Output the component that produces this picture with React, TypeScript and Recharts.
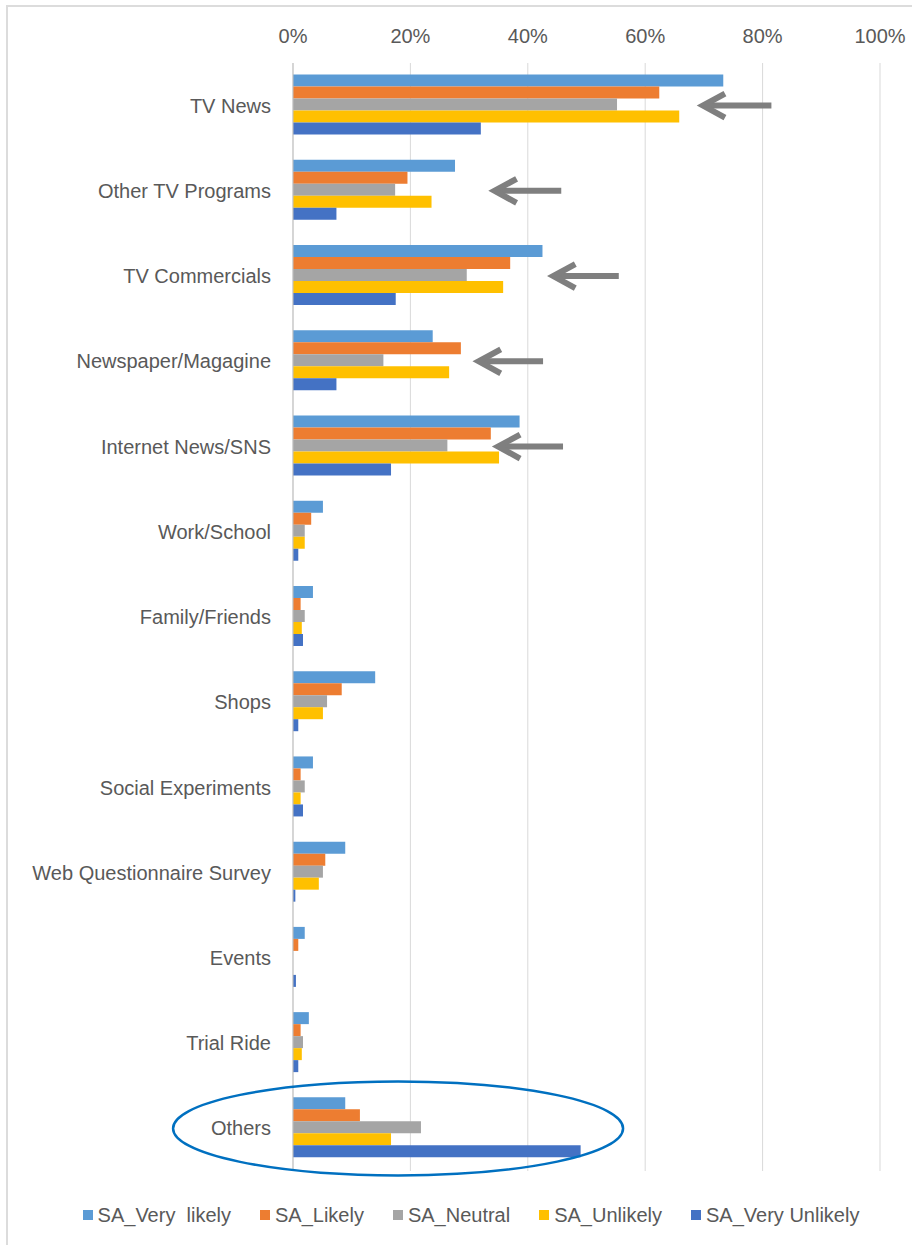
import React from 'react';
import {
  BarChart,
  Bar,
  XAxis,
  YAxis,
  CartesianGrid,
  Legend,
  ReferenceLine,
  ReferenceDot,
} from 'recharts';

const categories = [
  'TV News',
  'Other TV Programs',
  'TV Commercials',
  'Newspaper/Magagine',
  'Internet News/SNS',
  'Work/School',
  'Family/Friends',
  'Shops',
  'Social Experiments',
  'Web Questionnaire Survey',
  'Events',
  'Trial Ride',
  'Others',
];

const veryLikely = [73.3, 27.6, 42.5, 23.8, 38.6, 5.1, 3.4, 14.0, 3.4, 8.9, 2.0, 2.7, 8.9];
const likely = [62.4, 19.5, 37.0, 28.6, 33.7, 3.1, 1.3, 8.3, 1.3, 5.5, 0.9, 1.3, 11.4];
const neutral = [55.2, 17.4, 29.6, 15.4, 26.3, 2.0, 2.0, 5.8, 2.0, 5.1, 0, 1.7, 21.8];
const unlikely = [65.8, 23.6, 35.8, 26.6, 35.1, 2.0, 1.5, 5.1, 1.3, 4.4, 0, 1.5, 16.7];
const veryUnlikely = [32.0, 7.4, 17.5, 7.4, 16.7, 0.9, 1.7, 0.9, 1.7, 0.4, 0.5, 0.9, 49.0];

const xTicks = [0, 20, 40, 60, 80, 100];

const seriesNames = ['SA_Very  likely', 'SA_Likely', 'SA_Neutral', 'SA_Unlikely', 'SA_Very Unlikely'];
const seriesKeys = ['veryLikely', 'likely', 'neutral', 'unlikely', 'veryUnlikely'];
const seriesColors = ['#5B9BD5', '#ED7D31', '#A5A5A5', '#FFC000', '#4472C4'];

// annotation arrows (in data units): category, tail x, head x
const arrowCats = ['TV News', 'Other TV Programs', 'TV Commercials', 'Newspaper/Magagine', 'Internet News/SNS'];
const arrowTail = [81.5, 45.7, 55.5, 42.6, 46.0];
const arrowHead = [69.5, 34.0, 44.0, 31.3, 34.6];

// highlight ellipse around last category
const ellipseCat = 'Others';
const ellipseCenterX = 17.9;

const data = categories.map((name, i) => ({
  name,
  veryLikely: veryLikely[i],
  likely: likely[i],
  neutral: neutral[i],
  unlikely: unlikely[i],
  veryUnlikely: veryUnlikely[i],
}));

const FONT = '"Liberation Sans", Arial, sans-serif';
const TEXT = '#595959';

const ArrowShape = (props: any) => {
  const { x1, y1, x2, y2 } = props;
  if (x1 == null || x2 == null) return null;
  return (
    <g>
      <line x1={x1} y1={y1} x2={x2 + 3} y2={y2} stroke="#7F7F7F" strokeWidth={6} />
      <polyline
        points={`${x2 + 24},${y2 - 12} ${x2 + 2},${y2} ${x2 + 24},${y2 + 12}`}
        fill="none"
        stroke="#7F7F7F"
        strokeWidth={6}
        strokeLinejoin="miter"
      />
    </g>
  );
};

const EllipseShape = (props: any) => {
  const { cx, cy } = props;
  if (cx == null || cy == null) return null;
  return <ellipse cx={cx} cy={cy} rx={225} ry={47} fill="none" stroke="#0070C0" strokeWidth={2.5} />;
};

const LegendContent = (props: any) => {
  const payload = props.payload || [];
  const byValue: Record<string, any> = {};
  payload.forEach((p: any) => {
    byValue[p.value] = p;
  });
  const ordered = seriesNames.map((n, i) => byValue[n] || { value: n, color: seriesColors[i] });
  return (
    <div
      style={{
        display: 'flex',
        justifyContent: 'center',
        paddingTop: 32,
        paddingLeft: 30,
        height: 24,
        alignItems: 'center',
        fontFamily: FONT,
        fontSize: 20,
        color: TEXT,
      }}
    >
      {ordered.map((p: any, i: number) => (
        <div key={i} style={{ display: 'flex', alignItems: 'center', marginRight: i < ordered.length - 1 ? 29 : 0 }}>
          <span style={{ width: 10, height: 10, background: p.color, display: 'inline-block', marginRight: 5 }} />
          <span style={{ whiteSpace: 'pre' }}>{p.value}</span>
        </div>
      ))}
    </div>
  );
};

export default function App() {
  return (
    <div style={{ position: 'absolute', left: 0, top: 0, width: 912, height: 1245, background: '#fff' }}>
      <div
        style={{
          position: 'absolute',
          left: 6,
          top: 5,
          width: 906,
          height: 1240,
          borderLeft: '2px solid #DCDCDC',
          borderTop: '2px solid #DCDCDC',
        }}
      />
      <BarChart
        width={912}
        height={1245}
        data={data}
        layout="vertical"
        margin={{ top: 33, right: 32, bottom: 18, left: 10 }}
        barCategoryGap="13.6%"
        barGap={0}
        style={{ fontFamily: FONT }}
      >
        <CartesianGrid horizontal={false} stroke="#D9D9D9" />
        <XAxis
          type="number"
          orientation="top"
          domain={[0, 100]}
          ticks={xTicks}
          tickFormatter={(v: number) => `${v}%`}
          axisLine={false}
          tickLine={false}
          tickSize={0}
          tickMargin={20}
          height={30}
          tick={{ fill: TEXT, fontSize: 20, fontFamily: FONT }}
        />
        <YAxis
          type="category"
          dataKey="name"
          width={283}
          axisLine={{ stroke: '#BFBFBF' }}
          tickLine={false}
          tickSize={0}
          tickMargin={22}
          interval={0}
          tick={{ fill: TEXT, fontSize: 20, fontFamily: FONT }}
        />
        {seriesKeys.map((k, i) => (
          <Bar key={k} dataKey={k} name={seriesNames[i]} fill={seriesColors[i]} isAnimationActive={false} />
        ))}
        {arrowCats.map((c, i) => (
          <ReferenceLine
            key={c}
            segment={[
              { x: arrowTail[i], y: c },
              { x: arrowHead[i], y: c },
            ]}
            shape={ArrowShape}
            ifOverflow="visible"
          />
        ))}
        <ReferenceDot x={ellipseCenterX} y={ellipseCat} shape={EllipseShape} ifOverflow="visible" />
        <Legend
          verticalAlign="bottom"
          content={LegendContent}
          itemSorter={null as any}
          wrapperStyle={{ left: 0, width: 912, bottom: 18 }}
        />
      </BarChart>
    </div>
  );
}
